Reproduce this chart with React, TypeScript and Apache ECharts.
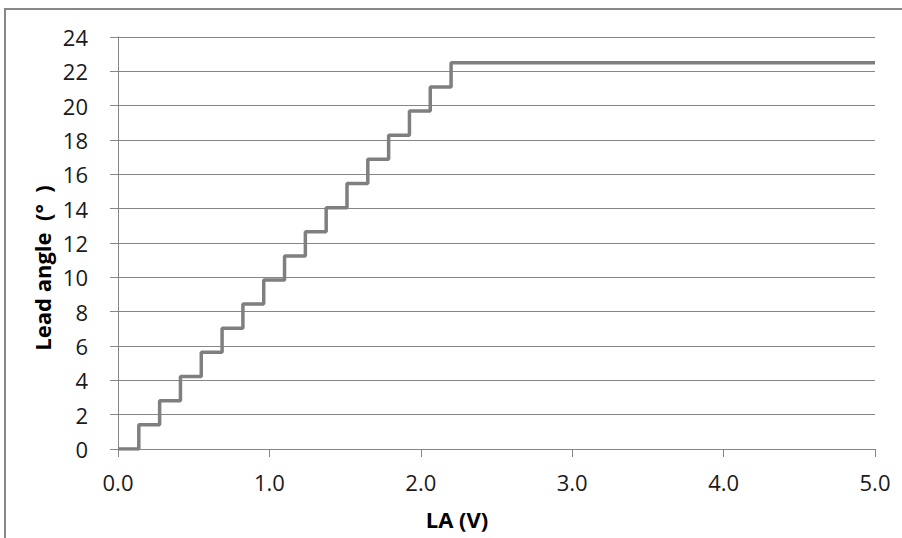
import React, { useEffect, useRef } from "react";
import * as echarts from "echarts";

const laVolts = [0, 0.1375, 0.275, 0.4125, 0.55, 0.6875, 0.825, 0.9625, 1.1, 1.2375, 1.375, 1.5125, 1.65, 1.7875, 1.925, 2.0625, 2.2, 5.0];
const leadAngle = [0, 1.41, 2.81, 4.22, 5.63, 7.03, 8.44, 9.84, 11.25, 12.66, 14.06, 15.47, 16.88, 18.28, 19.69, 21.09, 22.5, 22.5];

const xTitle = "LA (V)";
const yTitle = "Lead angle\u00a0\u00a0(°\u00a0\u00a0)";

export default function App() {
  const ref = useRef<HTMLDivElement>(null);
  useEffect(() => {
    if (!ref.current) return;
    document.body.style.margin = "0";
    document.body.style.overflow = "hidden";
    const chart = echarts.init(ref.current, null, { renderer: "svg" });
    const font = "'Open Sans', 'Noto Sans', sans-serif";
    chart.setOption({
      animation: false,
      backgroundColor: "#ffffff",
      grid: { left: 118, right: 27, top: 37, bottom: 89, containLabel: false },
      xAxis: {
        type: "value",
        min: 0,
        max: 5,
        interval: 1,
        axisLine: { show: true, lineStyle: { color: "#868686", width: 1 } },
        axisTick: { show: true, length: 8, lineStyle: { color: "#868686" } },
        splitLine: { show: false },
        axisLabel: {
          margin: 22,
          fontFamily: font,
          fontSize: 22,
          color: "#1a1a1a",
          formatter: (v: number) => v.toFixed(1),
        },
      },
      yAxis: {
        type: "value",
        min: 0,
        max: 24,
        interval: 2,
        axisLine: { show: true, lineStyle: { color: "#868686", width: 1 } },
        axisTick: { show: true, length: 8, lineStyle: { color: "#868686" } },
        splitLine: { show: true, lineStyle: { color: "#868686", width: 1 } },
        axisLabel: {
          margin: 30,
          fontFamily: font,
          fontSize: 22,
          color: "#1a1a1a",
        },
      },
      graphic: [
        {
          type: "rect",
          shape: { x: 5, y: 9, width: 920, height: 600 },
          style: { fill: "none", stroke: "#888888", lineWidth: 2 },
          silent: true,
        },
        {
          type: "text",
          x: 457,
          y: 519,
          style: {
            text: xTitle,
            fontFamily: font,
            fontSize: 22,
            fontWeight: "bold",
            fill: "#000",
            align: "center",
            verticalAlign: "middle",
          },
        },
        {
          type: "text",
          x: 42,
          y: 268,
          rotation: Math.PI / 2,
          style: {
            text: yTitle,
            fontFamily: font,
            fontSize: 22,
            fontWeight: "bold",
            fill: "#000",
            align: "center",
            verticalAlign: "middle",
          },
        },
      ],
      series: [
        {
          type: "line",
          step: "end",
          data: laVolts.map((x, i) => [x, leadAngle[i]]),
          showSymbol: false,
          symbol: "none",
          lineStyle: { color: "#7f7f7f", width: 3.5 },
        },
      ],
    });
    return () => chart.dispose();
  }, []);
  return <div ref={ref} style={{ position: "fixed", left: 0, top: 0, width: 902, height: 538 }} />;
}
